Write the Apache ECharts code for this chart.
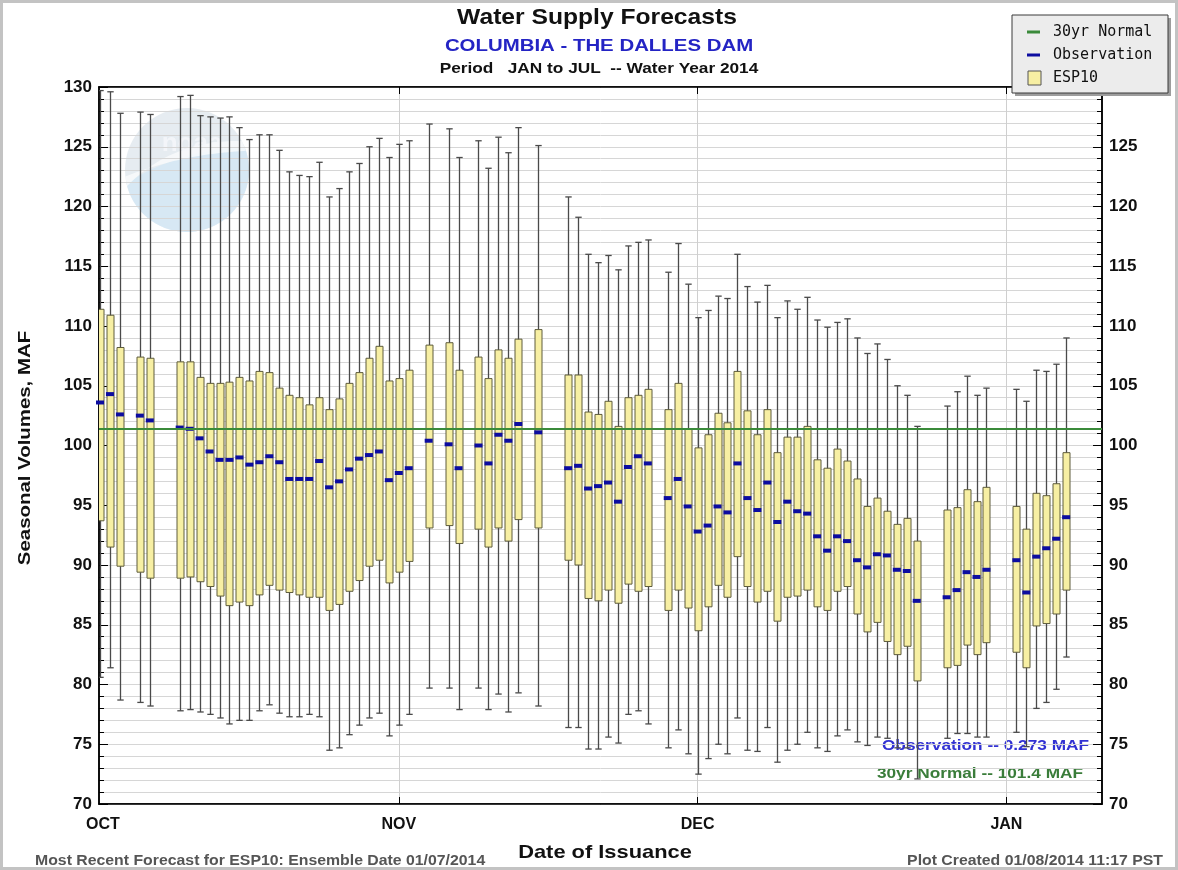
<!DOCTYPE html>
<html>
<head>
<meta charset="utf-8">
<title>Water Supply Forecasts - Columbia - The Dalles Dam</title>
<script src="https://cdn.jsdelivr.net/npm/echarts@6/dist/echarts.min.js"></script>
<style>
  html, body { margin: 0; padding: 0; background: #ffffff; }
  #chart { width: 1178px; height: 870px; }
</style>
</head>
<body>
<div id="chart"></div>
<script>
// Forecast issue dates (ESP10 ensemble runs), water year 2014
const issueDates = [
  '2013-10-02','2013-10-03','2013-10-04','2013-10-06','2013-10-07',
  '2013-10-10','2013-10-11','2013-10-12','2013-10-13','2013-10-14','2013-10-15','2013-10-16','2013-10-17',
  '2013-10-18','2013-10-19','2013-10-20','2013-10-21','2013-10-22','2013-10-23','2013-10-24','2013-10-25',
  '2013-10-26','2013-10-27','2013-10-28','2013-10-29','2013-10-30','2013-10-31',
  '2013-11-01','2013-11-02','2013-11-04','2013-11-06','2013-11-07','2013-11-09','2013-11-10','2013-11-11',
  '2013-11-12','2013-11-13','2013-11-15',
  '2013-11-18','2013-11-19','2013-11-20','2013-11-21','2013-11-22','2013-11-23','2013-11-24','2013-11-25','2013-11-26',
  '2013-11-28','2013-11-29','2013-11-30',
  '2013-12-01','2013-12-02','2013-12-03','2013-12-04','2013-12-05','2013-12-06','2013-12-07','2013-12-08',
  '2013-12-09','2013-12-10','2013-12-11','2013-12-12','2013-12-13','2013-12-14','2013-12-15','2013-12-16',
  '2013-12-17','2013-12-18','2013-12-19','2013-12-20','2013-12-21','2013-12-22','2013-12-23',
  '2013-12-26','2013-12-27','2013-12-28','2013-12-29','2013-12-30',
  '2014-01-02','2014-01-03','2014-01-04','2014-01-05','2014-01-06','2014-01-07'
];

// Seasonal volume (MAF) statistics per forecast
const whiskerHigh = [
  129.7,129.6,127.8,127.9,127.7,129.2,129.3,127.6,127.5,127.4,
  127.5,126.6,125.6,126.0,126.0,124.7,122.9,122.6,122.5,123.7,
  120.8,121.5,122.9,123.6,125.0,125.7,124.1,125.2,125.5,126.9,
  126.5,124.1,125.5,123.2,125.8,124.5,126.6,125.1,120.8,119.1,
  116.0,115.3,115.9,114.7,116.7,117.0,117.2,114.5,116.9,113.5,
  110.7,111.3,112.5,112.3,116.0,113.3,112.0,113.4,110.7,112.1,
  111.4,112.4,110.5,109.9,110.3,110.6,109.0,107.7,108.5,107.2,
  105.0,104.2,101.6,103.3,104.5,105.8,104.2,104.8,104.7,103.7,
  106.3,106.2,106.8,109.0
];
const boxHigh = [
  111.4,110.9,108.2,107.4,107.3,107.0,107.0,105.7,105.2,105.2,
  105.3,105.7,105.4,106.2,106.1,104.8,104.2,104.0,103.4,104.0,
  103.0,103.9,105.2,106.1,107.3,108.3,105.4,105.6,106.3,108.4,
  108.6,106.3,107.4,105.6,108.0,107.3,108.9,109.7,105.9,105.9,
  102.8,102.6,103.7,101.6,104.0,104.2,104.7,103.0,105.2,101.4,
  99.8,100.9,102.7,101.9,106.2,102.9,100.9,103.0,99.4,100.7,
  100.7,101.6,98.8,98.1,99.7,98.7,97.2,94.9,95.6,94.5,
  93.4,93.9,92.0,94.6,94.8,96.3,95.3,96.5,94.9,93.0,
  96.0,95.8,96.8,99.4
];
const boxLow = [
  93.7,91.5,89.9,89.4,88.9,88.9,89.0,88.6,88.2,87.4,
  86.6,86.9,86.6,87.5,88.3,87.9,87.7,87.5,87.3,87.3,
  86.2,86.7,87.8,88.7,89.9,90.4,88.5,89.4,90.3,93.1,
  93.3,91.8,93.0,91.5,93.1,92.0,93.8,93.1,90.4,90.0,
  87.2,87.0,87.9,86.8,88.4,87.8,88.2,86.2,87.9,86.4,
  84.5,86.5,88.3,87.3,90.7,88.2,86.9,87.8,85.3,87.3,
  87.4,87.9,86.5,86.2,87.8,88.2,85.9,84.4,85.2,83.6,
  82.5,83.2,80.3,81.4,81.6,83.3,82.5,83.5,82.7,81.4,
  84.9,85.1,85.9,87.9
];
const whiskerLow = [
  80.6,81.4,78.7,78.5,78.2,77.8,77.9,77.7,77.5,77.2,
  76.7,77.0,77.0,77.8,78.3,77.6,77.3,77.3,77.5,77.3,
  74.5,74.7,75.8,76.6,77.2,77.6,75.7,76.6,77.5,79.7,
  79.7,77.9,79.7,77.9,79.2,77.7,79.3,78.2,76.4,76.4,
  74.6,74.6,75.6,75.1,77.5,77.8,76.7,74.7,76.2,74.2,
  72.5,73.8,75.0,74.2,77.2,74.5,74.4,76.4,73.5,74.5,
  75.0,76.0,74.7,74.4,75.7,76.2,75.2,74.9,75.6,75.5,
  74.7,74.7,72.1,75.5,75.9,75.9,75.6,75.6,76.0,74.8,
  78.0,78.5,79.6,82.3
];
const observation = [
  103.6,104.3,102.6,102.5,102.1,101.5,101.4,100.6,99.5,98.8,
  98.8,99.0,98.4,98.6,99.1,98.6,97.2,97.2,97.2,98.7,
  96.5,97.0,98.0,98.9,99.2,99.5,97.1,97.7,98.1,100.4,
  100.1,98.1,100.0,98.5,100.9,100.4,101.8,101.1,98.1,98.3,
  96.4,96.6,96.9,95.3,98.2,99.1,98.5,95.6,97.2,94.9,
  92.8,93.3,94.9,94.4,98.5,95.6,94.6,96.9,93.6,95.3,
  94.5,94.3,92.4,91.2,92.4,92.0,90.4,89.8,90.9,90.8,
  89.6,89.5,87.0,87.3,87.9,89.4,89.0,89.6,90.4,87.7,
  90.7,91.4,92.2,94.0
];

const normal30yr = 101.4;
const observedToDate = '0.273';

// Month labels on the date axis
const monthLabels = ['OCT', 'NOV', 'DEC', 'JAN'];
const monthStarts = ['2013-11-01', '2013-12-01', '2014-01-01'];

// Y axis ticks
const yMin = 70, yMax = 130, yStep = 5;

// Dates become day numbers counted from 1 Oct 2013
const ORIGIN = Date.UTC(2013, 9, 1);
const dayOf = s => (Date.parse(s + 'T00:00:00Z') - ORIGIN) / 86400000;
const xMin = 0.9, xMax = 101.6;
const monthDays = monthStarts.map(dayOf);
// the first month name sits just inside the left edge of the plot
const labelDays = [xMin + 0.4].concat(monthDays);

const boxData = issueDates.map((d, i) => [dayOf(d), whiskerLow[i], boxLow[i], boxHigh[i], whiskerHigh[i]]);
const obsData = issueDates.map((d, i) => [dayOf(d), observation[i]]);

const FONT = '"Liberation Sans", Arial, sans-serif';
const MONO = '"DejaVu Sans Mono", monospace';
const BOX_FILL = '#f7efa3';
const BOX_EDGE = '#5e5c3c';
const WHISKER = '#4a4a4a';
const OBS_BLUE = '#0c0ca0';
const NORMAL_GREEN = '#3a8a3a';

function renderBox(params, api) {
  const d = api.value(0);
  const lo = api.coord([d, api.value(1)]);
  const q1 = api.coord([d, api.value(2)]);
  const q3 = api.coord([d, api.value(3)]);
  const hi = api.coord([d, api.value(4)]);
  const x = Math.round(lo[0]) + 0.5;
  const hw = 3.5, cap = 3.2;
  const ws = { stroke: WHISKER, lineWidth: 1.3 };
  return {
    type: 'group',
    children: [
      { type: 'line', shape: { x1: x, y1: hi[1], x2: x, y2: lo[1] }, style: ws },
      { type: 'line', shape: { x1: x - cap, y1: hi[1], x2: x + cap, y2: hi[1] }, style: ws },
      { type: 'line', shape: { x1: x - cap, y1: lo[1], x2: x + cap, y2: lo[1] }, style: ws },
      { type: 'rect', shape: { x: x - hw, y: q3[1], width: hw * 2, height: q1[1] - q3[1] },
        style: { fill: BOX_FILL, stroke: BOX_EDGE, lineWidth: 1 } }
    ]
  };
}

// Emblem outline helpers: points along a circle arc and a quadratic curve
const EMB = { cx: 187, cy: 170, r: 62 };
function arcPt(a) {
  const t = a * Math.PI / 180;
  return [EMB.cx + EMB.r * Math.cos(t), EMB.cy + EMB.r * Math.sin(t)];
}
function arcPts(a0, a1, n) {
  const pts = [];
  for (let i = 0; i <= n; i++) pts.push(arcPt(a0 + (a1 - a0) * i / n));
  return pts;
}
function quadPts(p0, c, p1, n) {
  const pts = [];
  for (let i = 0; i <= n; i++) {
    const t = i / n, u = 1 - t;
    pts.push([u * u * p0[0] + 2 * u * t * c[0] + t * t * p1[0], u * u * p0[1] + 2 * u * t * c[1] + t * t * p1[1]]);
  }
  return pts;
}
const embLower = quadPts(arcPt(168), [180, 150], arcPt(-22), 24).concat(arcPts(-22, 168, 40).slice(1));
const embWing = quadPts(arcPt(165), [172, 140], arcPt(-28), 24)
  .concat(quadPts(arcPt(-18), [182, 154], arcPt(174), 24));

// Text helper for stretched captions
function caption(x, y, text, font, color, align, sx, extra) {
  return Object.assign({
    type: 'text', x: x, y: y, scaleX: sx || 1, z: 10, silent: true,
    style: { x: 0, y: 0, text: text, font: font, fill: color, align: align, verticalAlign: 'middle' }
  }, extra || {});
}

const chart = echarts.init(document.getElementById('chart'), null, { renderer: 'canvas' });

const yAxisBase = {
  type: 'value', min: yMin, max: yMax, interval: yStep, z: 1,
  axisLine: { show: true, lineStyle: { color: '#000', width: 1.5 } },
  axisTick: { show: true, inside: true, length: 9, lineStyle: { color: '#000', width: 1 } },
  minorTick: { show: true, splitNumber: 5, length: 5, lineStyle: { color: '#000', width: 1 } }
};
const yLabel = { color: '#111', fontWeight: 'bold', fontSize: 17, fontFamily: FONT, margin: 7 };

const option = {
  backgroundColor: '#ffffff',
  animation: false,
  grid: { left: 99, right: 76, top: 87, bottom: 66, show: true, borderColor: '#000', borderWidth: 1.5, backgroundColor: 'transparent' },
  xAxis: [{
    type: 'value', min: xMin, max: xMax, position: 'bottom', z: 1,
    axisLine: { show: true, lineStyle: { color: '#000', width: 1.5 } },
    axisTick: { show: true, inside: true, length: 7, customValues: monthDays, lineStyle: { color: '#000' } },
    splitLine: { show: true, lineStyle: { color: '#cfcfcf', width: 1 } },
    axisLabel: {
      customValues: labelDays, margin: 13, color: '#111', fontWeight: 'bold', fontSize: 16, fontFamily: FONT,
      formatter: v => monthLabels[labelDays.indexOf(v)] || ''
    }
  }, {
    type: 'value', min: xMin, max: xMax, position: 'top', z: 1,
    axisLine: { show: true, lineStyle: { color: '#000', width: 1.5 } },
    axisTick: { show: true, inside: true, length: 7, customValues: monthDays, lineStyle: { color: '#000' } },
    splitLine: { show: false },
    axisLabel: { show: false }
  }],
  yAxis: [Object.assign({}, yAxisBase, {
    position: 'left',
    splitLine: { show: true, lineStyle: { color: '#d6d6d6', width: 1 } },
    minorSplitLine: { show: true, lineStyle: { color: '#d6d6d6', width: 1 } },
    axisLabel: yLabel
  }), Object.assign({}, yAxisBase, {
    position: 'right',
    splitLine: { show: false },
    minorSplitLine: { show: false },
    axisLabel: Object.assign({}, yLabel, { formatter: v => (v === yMax ? '' : String(v)) })
  })],
  series: [{
    name: 'ESP10',
    type: 'custom',
    renderItem: renderBox,
    data: boxData,
    clip: true,
    z: 2,
    encode: { x: 0, y: [1, 2, 3, 4] }
  }, {
    name: '30yr Normal',
    type: 'line',
    data: [],
    z: 3,
    markLine: {
      silent: true, symbol: 'none', label: { show: false },
      lineStyle: { color: NORMAL_GREEN, width: 2, type: 'solid' },
      data: [{ yAxis: normal30yr }]
    }
  }, {
    name: 'Observation',
    type: 'scatter',
    data: obsData,
    symbol: 'rect',
    symbolSize: [8, 4],
    itemStyle: { color: OBS_BLUE, opacity: 1 },
    clip: true,
    z: 4
  }],
  graphic: [
    // page frame
    { type: 'rect', z: 200, silent: true, shape: { x: 0, y: 0, width: 1178, height: 870 },
      style: { fill: 'none', stroke: '#c3c3c3', lineWidth: 6 } },
    // faint agency emblem, translucent so the grid shows through
    { type: 'circle', z: 0, silent: true, shape: { cx: EMB.cx, cy: EMB.cy, r: EMB.r }, style: { fill: '#e0e7ee', opacity: 0.8 } },
    { type: 'polygon', z: 0, silent: true, shape: { points: embLower }, style: { fill: '#d3e7f5', opacity: 0.8 } },
    { type: 'polygon', z: 0, silent: true, shape: { points: embWing }, style: { fill: '#f8fafc', opacity: 0.85 } },
    { type: 'text', z: 0, silent: true, style: { x: 192, y: 144, text: 'noaa', fill: '#f4f7fa', opacity: 0.85, font: 'bold 26px ' + FONT, align: 'center', verticalAlign: 'middle' } },
    // titles
    caption(597, 18, 'Water Supply Forecasts', 'bold 22px ' + FONT, '#111', 'center', 1.12),
    caption(599, 46, 'COLUMBIA - THE DALLES DAM', 'bold 17px ' + FONT, '#2424c4', 'center', 1.2),
    caption(599, 69, 'Period   JAN to JUL  -- Water Year 2014', 'bold 15px ' + FONT, '#111', 'center', 1.15),
    // axis titles
    caption(605, 853, 'Date of Issuance', 'bold 19px ' + FONT, '#111', 'center', 1.15),
    caption(25, 448, 'Seasonal Volumes, MAF', 'bold 17px ' + FONT, '#111', 'center', 1.2, { rotation: Math.PI / 2 }),
    // in-plot notes (drawn beneath the whiskers)
    caption(1089, 746, 'Observation -- ' + observedToDate + ' MAF', 'bold 15px ' + FONT, '#3232d2', 'right', 1.15, { z: 0 }),
    caption(1083, 774, '30yr Normal -- ' + normal30yr.toFixed(1) + ' MAF', 'bold 15px ' + FONT, '#3a7d3a', 'right', 1.15, { z: 0 }),
    // footer
    caption(35, 861, 'Most Recent Forecast for ESP10: Ensemble Date 01/07/2014', 'bold 14px ' + FONT, '#555', 'left', 1.13),
    caption(1163, 861, 'Plot Created 01/08/2014 11:17 PST', 'bold 14px ' + FONT, '#555', 'right', 1.13),
    // legend box
    { type: 'rect', z: 100, shape: { x: 1015, y: 18, width: 156, height: 78 }, style: { fill: '#9d9d9d' } },
    { type: 'rect', z: 100, shape: { x: 1012, y: 15, width: 156, height: 78 }, style: { fill: '#ececec', stroke: '#3a3a3a', lineWidth: 1 } },
    { type: 'line', z: 100, shape: { x1: 1027, y1: 32, x2: 1040, y2: 32 }, style: { stroke: NORMAL_GREEN, lineWidth: 3 } },
    { type: 'text', z: 100, style: { x: 1053, y: 32, text: '30yr Normal', fill: '#111', font: '15px ' + MONO, verticalAlign: 'middle' } },
    { type: 'line', z: 100, shape: { x1: 1027, y1: 55, x2: 1040, y2: 55 }, style: { stroke: OBS_BLUE, lineWidth: 3 } },
    { type: 'text', z: 100, style: { x: 1053, y: 55, text: 'Observation', fill: '#111', font: '15px ' + MONO, verticalAlign: 'middle' } },
    { type: 'rect', z: 100, shape: { x: 1028, y: 71, width: 13, height: 14 }, style: { fill: BOX_FILL, stroke: '#555', lineWidth: 1 } },
    { type: 'text', z: 100, style: { x: 1053, y: 78, text: 'ESP10', fill: '#111', font: '15px ' + MONO, verticalAlign: 'middle' } }
  ]
};

chart.setOption(option);
</script>
</body>
</html>
